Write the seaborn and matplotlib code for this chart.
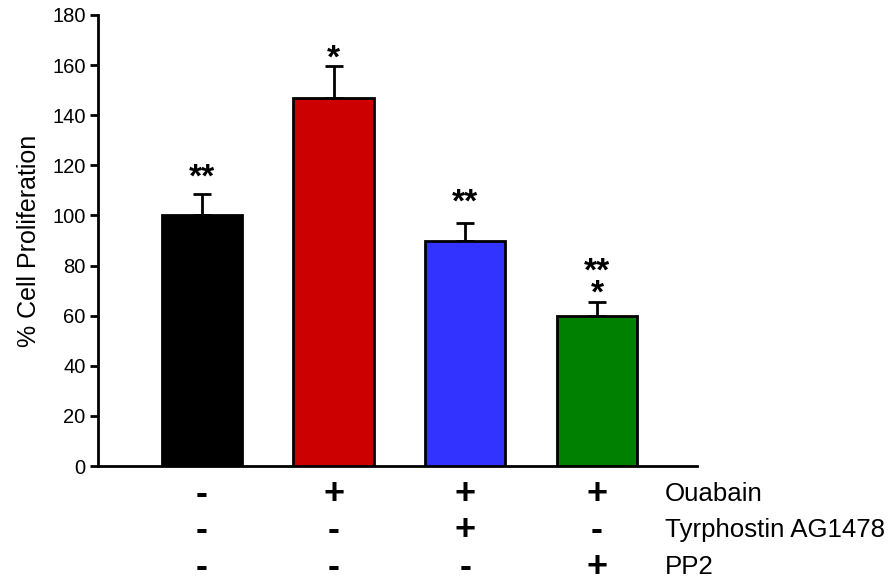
import matplotlib
matplotlib.use("Agg")
import matplotlib.pyplot as plt
import matplotlib.transforms as mtransforms
import numpy as np
import pandas as pd
import seaborn as sns

# Cell proliferation per treatment group (mean and SEM, % of control)
groups = ["Control", "Ouabain", "Ouabain + AG1478", "Ouabain + PP2"]
means = [100, 147, 90, 60]
sems = [8.7, 12.8, 7.0, 5.4]
stars = ["**", "*", "**", "**\n*"]
colors = ["#000000", "#CC0000", "#3333FF", "#008000"]

# Treatment matrix shown under the bars
treatments = ["Ouabain", "Tyrphostin AG1478", "PP2"]
ouabain = ["-", "+", "+", "+"]
tyrphostin = ["-", "-", "+", "-"]
pp2 = ["-", "-", "-", "+"]

yticks = [0, 20, 40, 60, 80, 100, 120, 140, 160, 180]

sns.set_theme(style="ticks")
plt.rcParams["font.family"] = ["Liberation Sans", "DejaVu Sans"]

fig = plt.figure(figsize=(8.93, 5.86), dpi=100)
ax = fig.add_axes([98 / 893, 1 - 466 / 586, (697 - 98) / 893, (466 - 15) / 586])

df = pd.DataFrame({"group": groups, "mean": means})
sns.barplot(data=df, x="group", y="mean", hue="group", palette=colors,
            order=groups, hue_order=groups, legend=False, errorbar=None,
            saturation=1, width=0.61, edgecolor="black", linewidth=2,
            ax=ax, zorder=3)

pos = np.arange(len(groups))
ax.errorbar(pos, means, yerr=[np.zeros(len(sems)), sems], fmt="none",
            ecolor="black", elinewidth=2, capsize=6.5, capthick=2, zorder=2)

# significance marks above the error bars (pixel offset from the cap, negative = up)
star_offsets = [-7, 2, -11, 0]
for x, m, s, lab, off in zip(pos, means, sems, stars, star_offsets):
    ax.annotate(lab, xy=(x, m + s), xytext=(0, -off * 0.72), textcoords="offset points",
                ha="center", va="baseline", fontsize=24, fontweight="bold",
                linespacing=0.62, color="black")

ax.set_xlim(-0.79, 3.76)
ax.set_ylim(0, 180)
ax.set_yticks(yticks)
ax.set_yticklabels([str(t) for t in yticks], fontsize=14.5, color="black")
ax.set_xticks([])
ax.set_xlabel("")
ax.set_ylabel("% Cell Proliferation", fontsize=18, color="black", labelpad=8)
ax.tick_params(axis="y", length=6, width=2, color="black", pad=3)
for side in ["top", "right"]:
    ax.spines[side].set_visible(False)
for side in ["left", "bottom"]:
    ax.spines[side].set_linewidth(2)
    ax.spines[side].set_color("black")
ax.set_facecolor("white")
fig.patch.set_facecolor("white")

# treatment table: signs at bar positions, row names at the right
trans = mtransforms.blended_transform_factory(ax.transData, fig.transFigure)
row_y = [1 - 504 / 586, 1 - 540 / 586, 1 - 577 / 586]
for yy, signs, name in zip(row_y, [ouabain, tyrphostin, pp2], treatments):
    for x, sgn in zip(pos, signs):
        ax.text(x, yy, sgn, transform=trans, ha="center", va="baseline",
                fontsize=26, fontweight="bold", color="black")
    fig.text(665 / 893, yy + 3 / 586, name, ha="left", va="baseline",
             fontsize=18.6, color="black")

fig.savefig("out.png", dpi=100, facecolor="white")
